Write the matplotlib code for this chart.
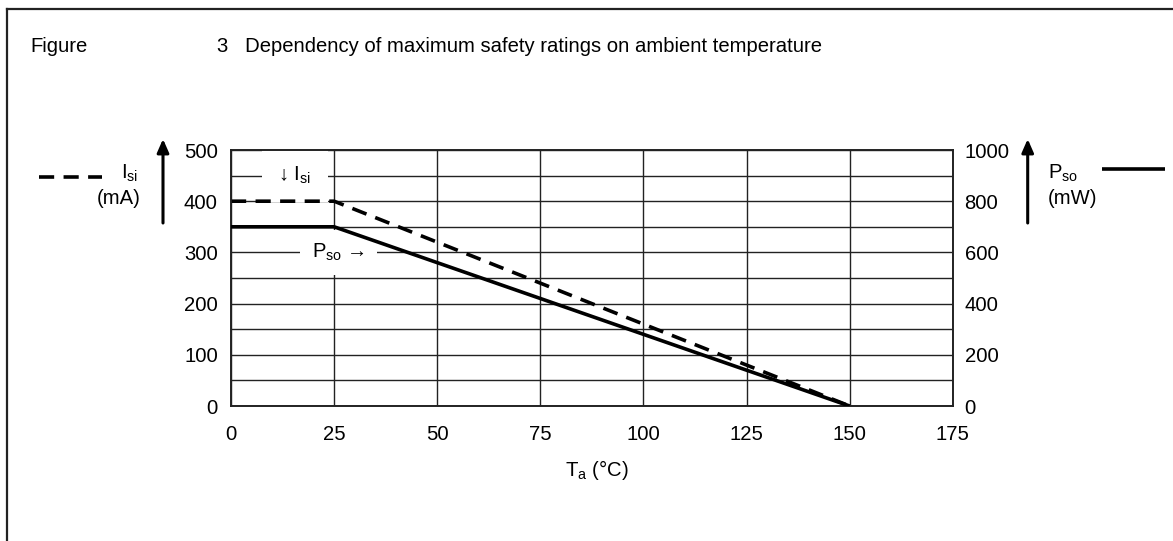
import matplotlib
matplotlib.use("Agg")
import matplotlib.pyplot as plt
from matplotlib.lines import Line2D

plt.rcParams['font.family'] = ['Liberation Sans', 'DejaVu Sans']
plt.rcParams['mathtext.fontset'] = 'custom'
plt.rcParams['mathtext.rm'] = 'Liberation Sans'
plt.rcParams['mathtext.it'] = 'Liberation Sans'
plt.rcParams['mathtext.default'] = 'regular'

# ---- data ----
temp_c = [0, 25, 150]          # ambient temperature Ta (°C)
isi_ma = [400, 400, 0]         # safety current Isi (mA), left axis
pso_mw = [700, 700, 0]         # safety power Pso (mW), right axis
x_ticks = [0, 25, 50, 75, 100, 125, 150, 175]
left_ticks = [0, 100, 200, 300, 400, 500]
left_minor = [50, 150, 250, 350, 450]
right_ticks = [0, 200, 400, 600, 800, 1000]

W, H = 1173, 541
fig = plt.figure(figsize=(W / 100, H / 100), dpi=100)
FS = 14.6

def fx(px):
    return px / W

def fy(py):
    return 1 - py / H

ax = fig.add_axes([fx(231), fy(406), (952.7 - 231) / W, (406 - 150) / H])
ax2 = ax.twinx()

ax.set_xlim(0, 175)
ax.set_ylim(0, 500)
ax2.set_ylim(0, 1000)
ax.set_xticks(x_ticks)
ax.set_yticks(left_ticks)
ax.set_yticks(left_minor, minor=True)
ax2.set_yticks(right_ticks)

ax.grid(True, which='both', color='#222222', lw=1.0, zorder=0.5)
ax.set_axisbelow(True)
ax.tick_params(axis='both', which='both', length=0, labelsize=FS)
ax.tick_params(axis='y', pad=9.5)
ax.tick_params(axis='x', pad=13.5)
ax2.tick_params(axis='y', length=0, labelsize=FS, pad=8.5)
for a in (ax, ax2):
    for s in a.spines.values():
        s.set_linewidth(1.2)
        s.set_color('#222222')

# masking boxes behind labels (over the grid)
ax.text(15.5, 450, r"↓ I$_{si}$", fontsize=FS, ha='center', va='center', zorder=1.5,
        bbox=dict(boxstyle='square,pad=0.8', fc='white', ec='none'))
ax.text(26.1, 300, r"P$_{so}$ →", fontsize=FS, ha='center', va='center', zorder=1.5,
        bbox=dict(boxstyle='square,pad=0.6', fc='white', ec='none'))

ax.plot(temp_c, isi_ma, color='black', lw=2.6, linestyle=(0, (4.2, 2.6)), zorder=3,
        solid_capstyle='butt', dash_capstyle='butt')
ax2.plot(temp_c, pso_mw, color='black', lw=2.6, zorder=3, solid_capstyle='butt')

# title texts
fig.text(fx(30), fy(52.5), "Figure", fontsize=FS, ha='left', va='baseline')
fig.text(fx(217), fy(52.5), "3   Dependency of maximum safety ratings on ambient temperature",
         fontsize=FS, ha='left', va='baseline')

# x label
fig.text(fx(596.5), fy(476), r"T$_a$ (°C)", fontsize=FS, ha='center', va='baseline')

# left axis label
fig.add_artist(Line2D([fx(39), fx(102)], [fy(176.7), fy(176.7)], color='black', lw=2.6,
                      linestyle=(0, (4.2, 2.6)), dash_capstyle='butt'))
fig.text(fx(121), fy(179), r"I$_{si}$", fontsize=FS, ha='left', va='baseline')
fig.text(fx(141), fy(204), "(mA)", fontsize=FS, ha='right', va='baseline')
ax.annotate('', xy=(163, H - 139), xytext=(163, H - 223), xycoords='figure pixels',
            textcoords='figure pixels', annotation_clip=False,
            arrowprops=dict(arrowstyle='-|>,head_length=0.8,head_width=0.35', lw=2.2,
                            color='black', shrinkA=0, shrinkB=0))

# right axis label
ax.annotate('', xy=(1027.7, H - 139), xytext=(1027.7, H - 223), xycoords='figure pixels',
            textcoords='figure pixels', annotation_clip=False,
            arrowprops=dict(arrowstyle='-|>,head_length=0.8,head_width=0.35', lw=2.2,
                            color='black', shrinkA=0, shrinkB=0))
fig.text(fx(1047.5), fy(179), r"P$_{so}$", fontsize=FS, ha='left', va='baseline')
fig.text(fx(1047.5), fy(204), "(mW)", fontsize=FS, ha='left', va='baseline')
fig.add_artist(Line2D([fx(1101.7), fx(1165)], [fy(169.3), fy(169.3)], color='black', lw=2.6,
                      solid_capstyle='butt'))

# frame border (top and left)
fig.add_artist(Line2D([fx(7), fx(1173)], [fy(9), fy(9)], color='#222222', lw=1.6))
fig.add_artist(Line2D([fx(7), fx(7)], [fy(9), fy(541)], color='#222222', lw=1.6))

fig.savefig("out.png", dpi=100)
